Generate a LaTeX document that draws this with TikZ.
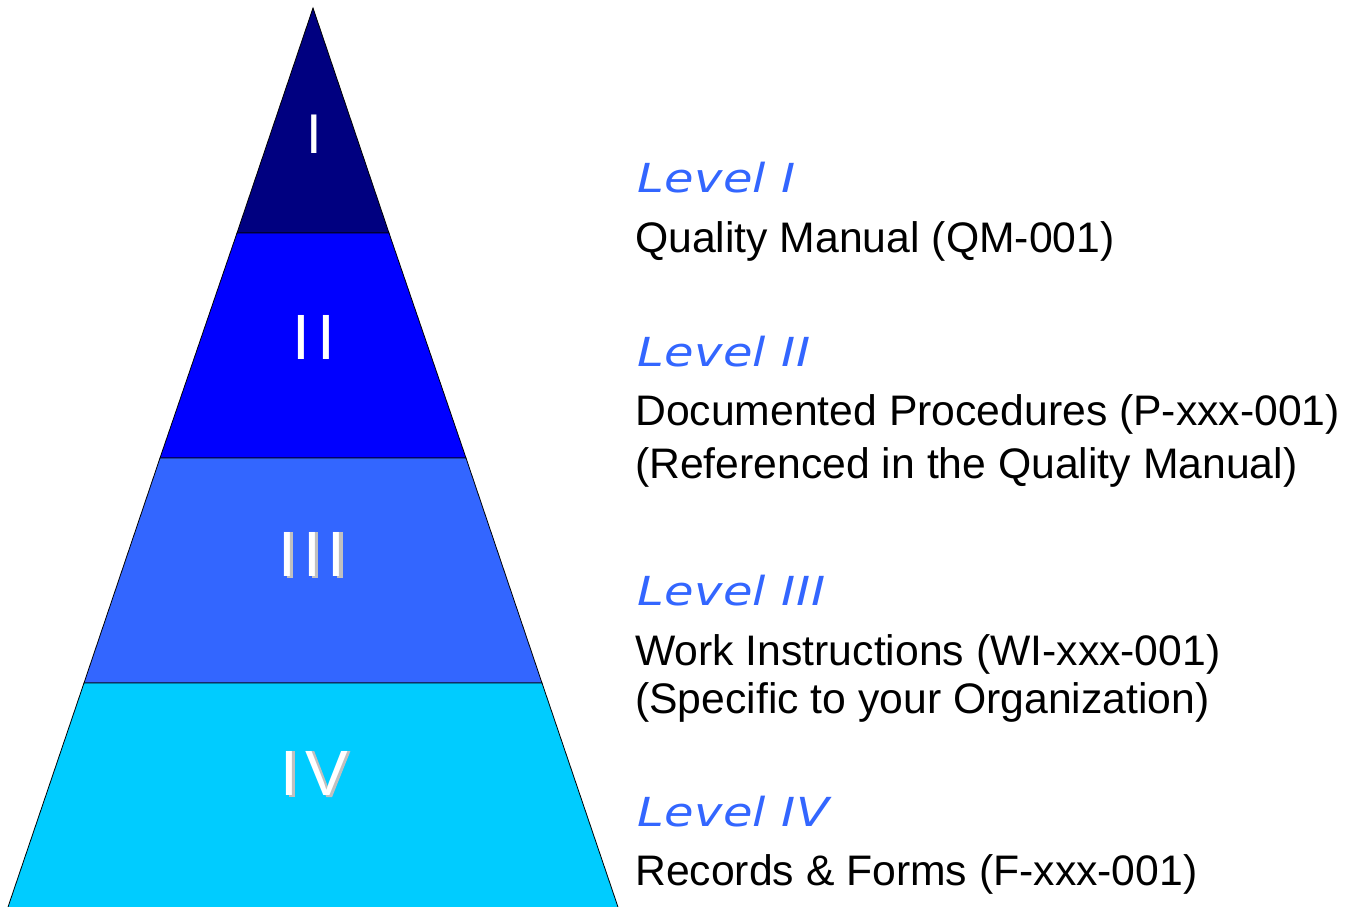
\documentclass[tikz,border=0pt]{standalone}
\usepackage{fontspec}
\setmainfont{Liberation Sans}
\newfontfamily\levelfont[FakeStretch=1.2,LetterSpace=1]{DejaVu Sans}
\definecolor{lvA}{HTML}{000080}
\definecolor{lvB}{HTML}{0000FF}
\definecolor{lvC}{HTML}{3366FF}
\definecolor{lvD}{HTML}{00CCFF}
\definecolor{lvtext}{HTML}{3366FF}
\definecolor{shade}{HTML}{C0C0C0}
\pgfdeclarelayer{back}
\pgfdeclarelayer{mid}
\pgfsetlayers{back,mid,main}
\begin{document}
\begin{tikzpicture}[x=1pt,y=-1pt,
  band/.style={draw=black, line width=0.8pt},
  roman/.style={anchor=base, text=white, font=\fontsize{64}{70}\selectfont, inner sep=0pt},
  lvl/.style={anchor=base west, text=lvtext, font=\levelfont\itshape\fontsize{40}{48}\selectfont, inner sep=0pt},
  desc/.style={anchor=base west, text=black, font=\fontsize{42.7}{53}\selectfont, inner sep=0pt, align=left},
  shadow/.style={fill=shade, draw=none}]
\useasboundingbox (0,0) rectangle (1357,906);
% pyramid bands
\begin{pgfonlayer}{back}
\coordinate (apex) at (313,8);
\draw[band, fill=lvA] (apex) -- (389,233) -- (237,233) -- cycle;
\draw[band, fill=lvB] (237,233) -- (389,233) -- (466,458) -- (160,458) -- cycle;
\draw[band, fill=lvC] (160,458) -- (466,458) -- (542,683) -- (84,683) -- cycle;
\draw[band, fill=lvD] (84,683) -- (542,683) -- (619,910) -- (7,910) -- cycle;
\end{pgfonlayer}
% roman numerals
\node[roman, font=\fontsize{56}{60}\selectfont] (r1) at (314,153) {I};
\node[roman] (r2) at (314,359) {I\hspace{7pt}I};
\node[roman] (r3) at (312,576) {I\hspace{7pt}I\hspace{7pt}I};
\node[roman] (r4) at (314,795) {I\hspace{7pt}V};
% emboss shadows of III and IV
\begin{pgfonlayer}{mid}
\foreach \o in {0,24.79,49.58}{
  \fill[shadow] ([shift={(\o+9.0,2)}]r3.base west) rectangle ([shift={(\o+14.9,-43.8)}]r3.base west);
}
\fill[shadow] ([shift={(9.0,2)}]r4.base west) rectangle ([shift={(14.9,-43.8)}]r4.base west);
\begin{scope}[shift={([shift={(27.79,2)}]r4.base west)}]
  \fill[shadow] (0.3,-45.8) -- (6.4,-45.8) -- (21.3,-7.0) -- (36.4,-45.8) -- (42.5,-45.8) -- (24.25,0) -- (18.4,0) -- cycle;
\end{scope}
\end{pgfonlayer}
% labels
\node[lvl] (l1) at (637,192) {Level I};
\node[desc] (d1) at (635,252) {Quality Manual (QM-001)};
\node[lvl] (l2) at (637,366) {Level II};
\node[desc] (d2) at (635,425) {Documented Procedures (P-xxx-001)};
\node[desc] (d2b) at (635,478) {(Referenced in the Quality Manual)};
\node[lvl] (l3) at (637,605) {Level III};
\node[desc] (d3) at (635,665) {Work Instructions (WI-xxx-001)};
\node[desc] (d3b) at (635,713) {(Specific to your Organization)};
\node[lvl] (l4) at (637,826) {Level IV};
\node[desc] (d4) at (635,885) {Records \& Forms (F-xxx-001)};
\end{tikzpicture}
\end{document}
